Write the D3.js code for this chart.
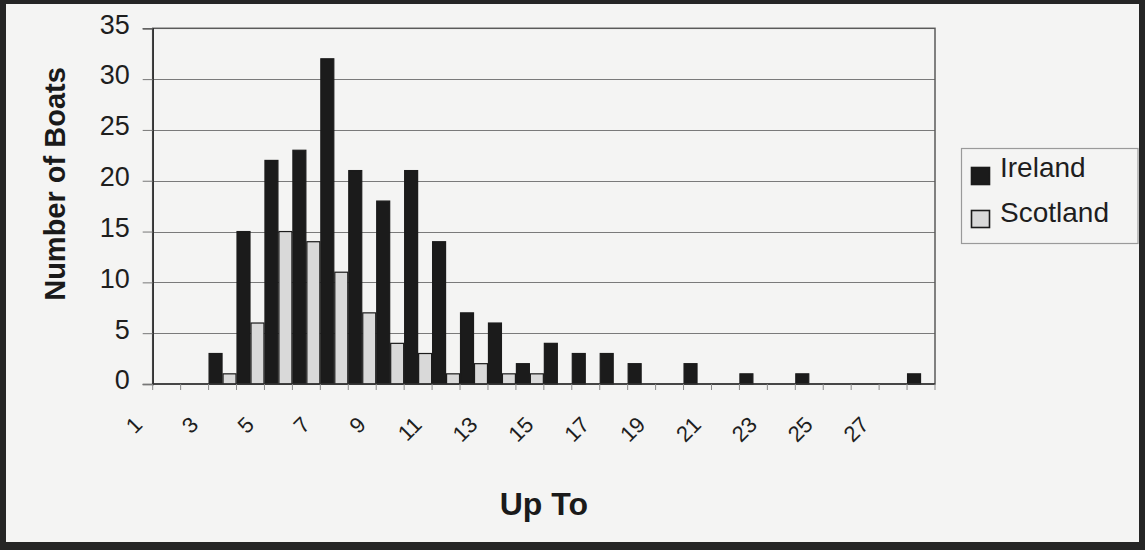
<!DOCTYPE html>
<html>
<head>
<meta charset="utf-8">
<script src="https://cdn.jsdelivr.net/npm/d3@7"></script>
<style>
  html, body { margin: 0; padding: 0; background: #ffffff; }
  svg { display: block; font-family: "Liberation Sans", Arial, sans-serif; }
</style>
</head>
<body>
<svg id="chart" width="1145" height="550"></svg>
<script>
// Boat counts per size class ("Up To" n), two fleets
const categories = ["1","2","3","4","5","6","7","8","9","10","11","12","13","14",
                    "15","16","17","18","19","20","21","22","23","24","25","26","27","28"];
const ireland  = [0,0,3,15,22,23,32,21,18,21,14,7,6,2,4,3,3,2,0,2,0,1,0,1,0,0,0,1];
const scotland = [0,0,1,6,15,14,11,7,4,3,1,2,1,1,0,0,0,0,0,0,0,0,0,0,0,0,0,0];
const seriesNames = ["Ireland", "Scotland"];
const xTickLabels = ["1","3","5","7","9","11","13","15","17","19","21","23","25","27"];
const yTickValues = [0,5,10,15,20,25,30,35];

const W = 1145, H = 550;
const plot = { left: 152.7, right: 935, top: 28.3, bottom: 384 };
const colors = { Ireland: "#1b1b1b", Scotland: "#d9d9d9" };
const paper = "#f4f4f3";

const svg = d3.select("#chart");

// page frame and paper
svg.append("rect").attr("x", 0).attr("y", 0).attr("width", W).attr("height", H).attr("fill", "#252525");
svg.append("rect").attr("x", 6).attr("y", 4).attr("width", W - 12).attr("height", H - 12).attr("fill", paper);

// scales
const x = d3.scaleBand().domain(categories).range([plot.left, plot.right]).paddingInner(0).paddingOuter(0);
const xSub = d3.scaleBand().domain(seriesNames).range([0, x.bandwidth()]).padding(0);
const y = d3.scaleLinear().domain([0, 35]).range([plot.bottom, plot.top]);

// gridlines
svg.append("g").selectAll("line")
  .data(yTickValues.filter(v => v > 0 && v < 35))
  .join("line")
  .attr("x1", plot.left).attr("x2", plot.right)
  .attr("y1", d => Math.round(y(d)) + 0.5).attr("y2", d => Math.round(y(d)) + 0.5)
  .attr("stroke", "#7a7a7a").attr("stroke-width", 1.2);

// plot border
svg.append("rect")
  .attr("x", plot.left).attr("y", y(35))
  .attr("width", plot.right - plot.left).attr("height", plot.bottom - y(35))
  .attr("fill", "none").attr("stroke", "#5a5a5a").attr("stroke-width", 1.5);

// bars
const rows = categories.map((c, i) => ({ cat: c, Ireland: ireland[i], Scotland: scotland[i] }));
const groups = svg.append("g").selectAll("g")
  .data(rows).join("g")
  .attr("transform", d => `translate(${x(d.cat)},0)`);

groups.selectAll("rect")
  .data(d => seriesNames.map(s => ({ s, v: d[s] })).filter(e => e.v > 0))
  .join("rect")
  .attr("x", e => xSub(e.s) + 0.5)
  .attr("width", xSub.bandwidth() - 1)
  .attr("y", e => y(e.v))
  .attr("height", e => y(0) - y(e.v))
  .attr("fill", e => colors[e.s])
  .attr("stroke", "#1b1b1b")
  .attr("stroke-width", 1.2);

// y axis
const yAxis = svg.append("g")
  .attr("transform", `translate(${plot.left},0)`)
  .call(d3.axisLeft(y).tickValues(yTickValues).tickSize(10).tickPadding(13));
yAxis.select(".domain").attr("stroke", "#333").attr("stroke-width", 1.6);
yAxis.selectAll(".tick line").attr("stroke", "#777");
yAxis.selectAll(".tick text")
  .attr("font-size", 27).attr("fill", "#1e1e1e").attr("dy", "0.18em")
  .style("font-family", "'Liberation Sans', Arial, sans-serif");

// x axis baseline and tick marks between categories
svg.append("line")
  .attr("x1", plot.left).attr("x2", plot.right)
  .attr("y1", y(0)).attr("y2", y(0))
  .attr("stroke", "#333").attr("stroke-width", 1.6);
const edges = categories.map(c => x(c)).concat([x(categories[categories.length - 1]) + x.bandwidth()]);
svg.append("g").selectAll("line")
  .data(edges).join("line")
  .attr("x1", d => d).attr("x2", d => d)
  .attr("y1", y(0)).attr("y2", y(0) + 6)
  .attr("stroke", "#8a8a8a").attr("stroke-width", 1);

// rotated category labels
svg.append("g").selectAll("text")
  .data(xTickLabels).join("text")
  .attr("transform", d => `translate(${x(d) + x.bandwidth() / 2 - 23},426) rotate(-45)`)
  .attr("text-anchor", "end")
  .attr("font-size", 22)
  .attr("fill", "#1e1e1e")
  .text(d => d);

// axis titles
svg.append("text")
  .attr("x", (plot.left + plot.right) / 2).attr("y", 515)
  .attr("text-anchor", "middle")
  .attr("font-size", 32).attr("font-weight", "bold").attr("fill", "#1a1a1a")
  .text("Up To");

svg.append("text")
  .attr("transform", "translate(65,184) rotate(-90)")
  .attr("text-anchor", "middle")
  .attr("font-size", 29).attr("font-weight", "bold").attr("fill", "#1a1a1a")
  .text("Number of Boats");

// legend
const legend = svg.append("g");
legend.append("rect")
  .attr("x", 961.5).attr("y", 148.5).attr("width", 176.5).attr("height", 95)
  .attr("fill", "none").attr("stroke", "#9a9a9a").attr("stroke-width", 1.2);
const legendRows = [
  { name: "Ireland", sy: 167, ty: 177 },
  { name: "Scotland", sy: 210, ty: 222 }
];
legend.selectAll("rect.sw").data(legendRows).join("rect")
  .attr("class", "sw")
  .attr("x", 971.5).attr("y", d => d.sy + 0.5)
  .attr("width", 18).attr("height", 17)
  .attr("fill", d => colors[d.name])
  .attr("stroke", "#1b1b1b").attr("stroke-width", 1.6);
legend.selectAll("text").data(legendRows).join("text")
  .attr("x", 1000).attr("y", d => d.ty)
  .attr("font-size", 28).attr("fill", "#1e1e1e")
  .text(d => d.name);
</script>
</body>
</html>
